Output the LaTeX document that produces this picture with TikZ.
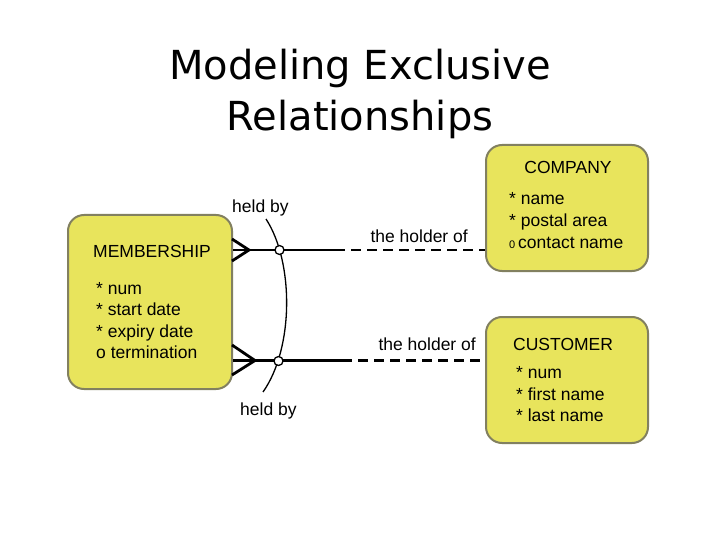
\documentclass[tikz,border=0pt]{standalone}
\usepackage{fontspec}
\setmainfont{Liberation Sans}
\newfontfamily\titlefont{DejaVu Sans}
\definecolor{boxfill}{RGB}{232,228,92}
\definecolor{boxline}{RGB}{130,128,96}
\begin{document}
\begin{tikzpicture}[x=1pt,y=-1pt,
  ent/.style={draw=boxline, line width=2pt, fill=boxfill, rounded corners=16pt, inner sep=0pt},
  txt/.style={font=\fontsize{17.5}{20}\selectfont, inner sep=0pt, anchor=base west},
  lbl/.style={font=\fontsize{17.5}{20}\selectfont, inner sep=0pt},
  ttl/.style={font=\titlefont\fontsize{40}{44}\selectfont, inner sep=0pt, anchor=base},
  rel/.style={line width=2.8pt},
  reldash/.style={line width=2.8pt, dash pattern=on 10pt off 6pt},
  arcline/.style={line width=1.3pt},
  opt/.style={circle, draw, line width=1.3pt, fill=white, inner sep=0pt, minimum size=9pt}]
\useasboundingbox (0,0) rectangle (720,540);

% title
\node[ttl] (t1) at (360,80) {Modeling Exclusive};
\node[ttl] (t2) at (360,131) {Relationships};

% entities
\node[ent, minimum width=164pt, minimum height=174pt] (mem) at (150,302) {};
\node[ent, minimum width=162pt, minimum height=126pt] (comp) at (567,208) {};
\node[ent, minimum width=162pt, minimum height=126pt] (cust) at (567,380) {};

% MEMBERSHIP text
\node[txt] (memt) at (93,257) {MEMBERSHIP};
\node[txt] (mem1) at (96,294) {* num};
\node[txt] (mem2) at (96,315.5) {* start date};
\node[txt] (mem3) at (96,337) {* expiry date};
\node[txt] (mem4) at (96,358.5) {o termination};

% COMPANY text
\node[txt, anchor=base] (compt) at (568,174) {COMPANY};
\node[txt] (comp1) at (509,205) {* name};
\node[txt] (comp2) at (509,226.5) {* postal area};
\node[txt] (comp3) at (509,248) {{\fontsize{11}{11}\selectfont 0}\,contact name};

% CUSTOMER text
\node[txt] (custt) at (513,350) {CUSTOMER};
\node[txt] (cust1) at (516,378.5) {* num};
\node[txt] (cust2) at (516,400) {* first name};
\node[txt] (cust3) at (516,421.5) {* last name};

% upper relationship
\coordinate (u0) at (mem.east |- 0,250);
\coordinate (ut) at (232,239);
\coordinate (ub) at (232,261);
\coordinate (uj) at (249,250);
\coordinate (us) at (335,250);
\coordinate (ue) at (comp.west |- 0,250);
\draw[rel] (u0) -- (us);
\draw[reldash] (us) -- (ue);
\draw[rel] (ut) -- (uj) -- (ub);

% lower relationship
\coordinate (l0) at (mem.east |- 0,360.5);
\coordinate (lt) at (232,345);
\coordinate (lb) at (232,375);
\coordinate (lj) at (255,360.5);
\coordinate (ls) at (342,360.5);
\coordinate (le) at (cust.west |- 0,360.5);
\draw[rel] (l0) -- (ls);
\draw[reldash] (ls) -- (le);
\draw[rel] (lt) -- (lj) -- (lb);

% exclusive arc
\coordinate (a1) at (266,219);
\coordinate (a2) at (294,262);
\coordinate (a3) at (294,348);
\coordinate (a4) at (263,392);
\draw[arcline] (a1) .. controls (a2) and (a3) .. (a4);
\node[opt] (o1) at (279.5,250) {};
\node[opt] (o2) at (278.5,361) {};

% labels
\node[lbl, anchor=base west] (hb1) at (232,212) {held by};
\node[lbl, anchor=base west] (hb2) at (240,415) {held by};
\node[lbl, anchor=base east] (th1) at (468,243) {the holder of};
\node[lbl, anchor=base east] (th2) at (476,350) {the holder of};
\end{tikzpicture}
\end{document}
